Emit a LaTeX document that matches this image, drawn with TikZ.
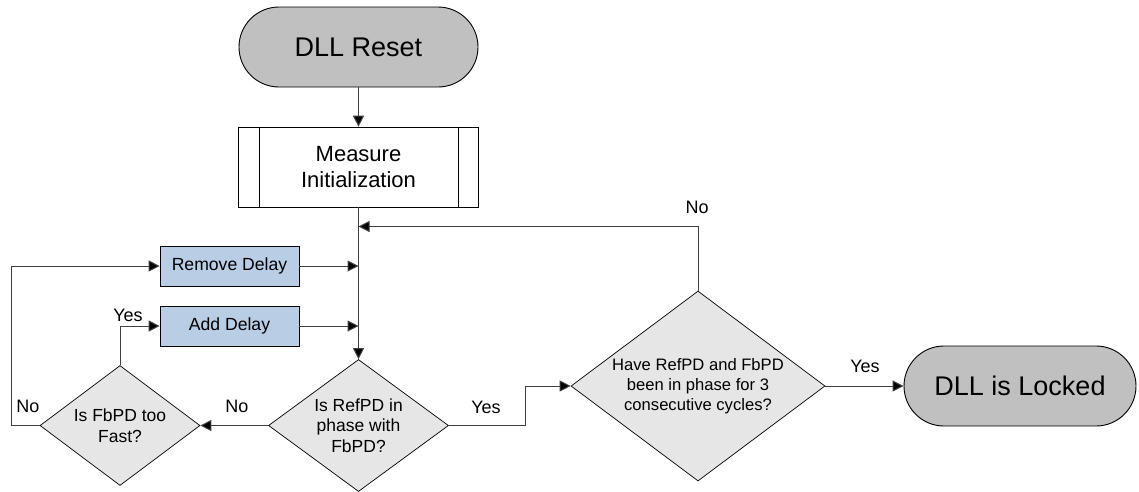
\documentclass[tikz,border=0pt]{standalone}
\usepackage{fontspec}
\setmainfont{Liberation Sans}
\usetikzlibrary{shapes.geometric,arrows.meta}
\definecolor{termfill}{HTML}{C0C0C0}
\definecolor{decfill}{HTML}{E6E6E6}
\definecolor{procfill}{HTML}{B9CDE5}
\definecolor{linecol}{HTML}{404040}
\tikzset{
  terminal/.style={draw=black, line width=0.9pt, fill=termfill, rounded corners=40pt,
    minimum width=239pt, minimum height=80pt, inner sep=0pt, font=\fontsize{27}{30}\selectfont},
  predef/.style={draw=black, line width=0.7pt, fill=white, minimum width=240pt,
    minimum height=80pt, inner sep=0pt, align=center, font=\fontsize{22}{26}\selectfont},
  procbox/.style={draw=black, line width=0.7pt, fill=procfill, minimum width=139pt,
    minimum height=40pt, inner sep=0pt, font=\fontsize{17.6}{20}\selectfont},
  decision/.style={draw=black, line width=0.7pt, fill=decfill, diamond, inner sep=0pt},
  dectext/.style={align=center, font=\fontsize{17.5}{20.5}\selectfont},
  lbl/.style={font=\fontsize{18}{20}\selectfont},
  arr/.style={draw=linecol, line width=1pt, -{Triangle[length=11pt,width=11pt,fill=black]}},
  conn/.style={draw=linecol, line width=1pt}
}
\begin{document}
\begin{tikzpicture}[x=1pt,y=-1pt]
\useasboundingbox (0,0) rectangle (1139,491);

% nodes
\node[terminal] (reset) at (358.5,47) {DLL Reset};
\node[predef] (meas) at (358.5,167) {Measure\\Initialization};
\draw[line width=0.7pt] ([xshift=21pt]meas.north west) -- ([xshift=21pt]meas.south west);
\draw[line width=0.7pt] ([xshift=-21pt]meas.north east) -- ([xshift=-21pt]meas.south east);

\node[procbox] (remove) at (229.5,266) {Remove Delay};
\node[procbox] (add) at (229.5,326) {Add Delay};

\node[decision, minimum width=180pt, minimum height=132pt] (refpd) at (358.5,425.5) {};
\node[dectext] (refpdt) at (refpd.center) {Is RefPD in\\phase with\\FbPD?};

\node[decision, minimum width=160pt, minimum height=120pt] (fbpd) at (120,425.5) {};
\node[dectext] (fbpdt) at (fbpd.center) {Is FbPD too\\Fast?};

\node[decision, minimum width=254pt, minimum height=190pt] (cons) at (698,386) {};
\node[dectext, font=\fontsize{16.6}{20}\selectfont] (const) at (cons.center) {Have RefPD and FbPD\\been in phase for 3\\consecutive cycles?};

\node[terminal, minimum width=232pt] (locked) at (1020,386) {DLL is Locked};

% junction points on the main vertical line and bends
\coordinate (jloop) at (358.5,226.5);
\coordinate (jrem) at (358.5,266);
\coordinate (jadd) at (358.5,326);
\coordinate (bendyes) at (525.5,386);
\coordinate (bendno) at (11,266);

% connectors
\draw[arr] (reset) -- (meas);
\draw[arr] (meas.south) -- (refpd.north);
\draw[arr] (cons.north) |- (jloop);
\draw[arr] (remove.east) -- (jrem);
\draw[arr] (add.east) -- (jadd);
\draw[arr] (refpd.west) -- (fbpd.east);
\draw[arr] (refpd.east) -| (bendyes) -- (cons.west);
\draw[arr] (fbpd.north) |- (add.west);
\draw[arr] (fbpd.west) -| (bendno) -- (remove.west);
\draw[arr] (cons.east) -- (locked.west);

% branch labels
\node[lbl] (lno1) at (697,207) {No};
\node[lbl] (lyes1) at (486,407) {Yes};
\node[lbl] (lno2) at (237,406) {No};
\node[lbl] (lyes2) at (128,315) {Yes};
\node[lbl] (lno3) at (28,406) {No};
\node[lbl] (lyes3) at (865,366) {Yes};
\end{tikzpicture}
\end{document}
